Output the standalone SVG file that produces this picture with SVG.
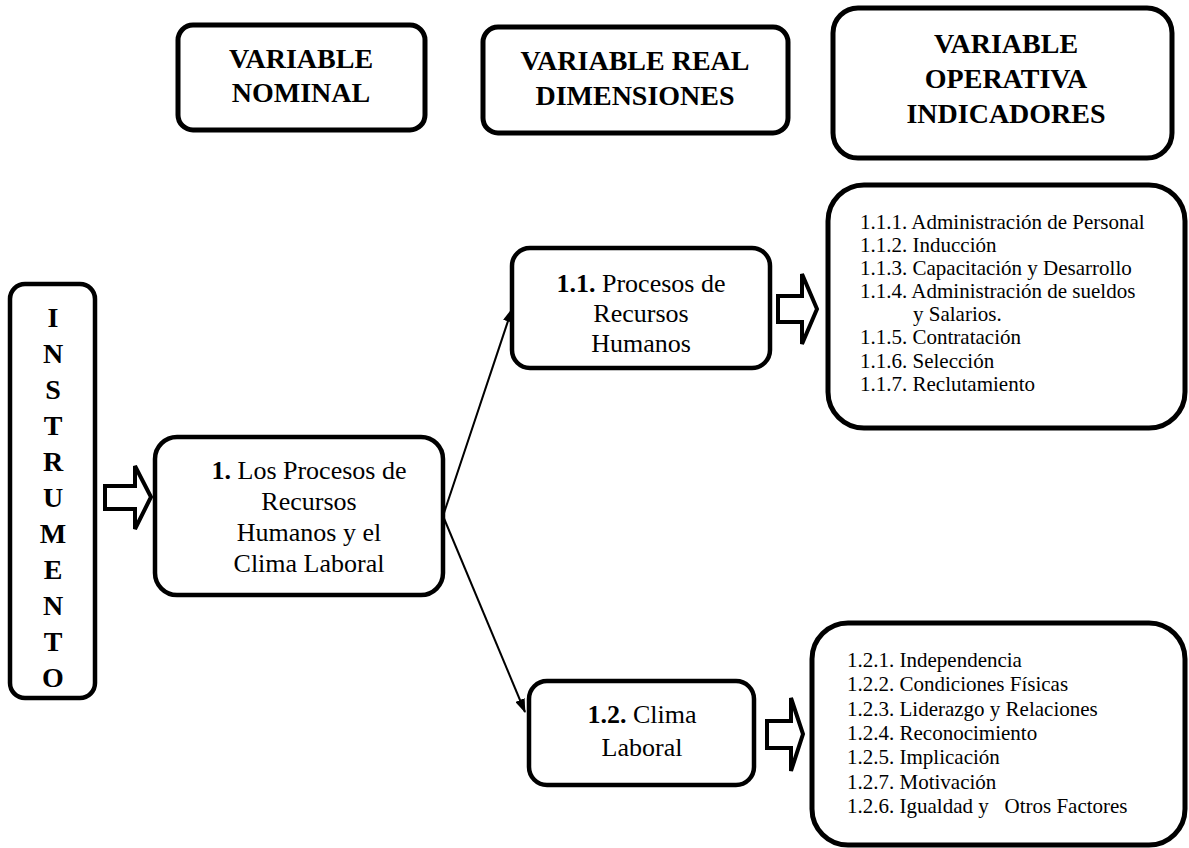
<svg xmlns="http://www.w3.org/2000/svg" width="1189" height="848" viewBox="0 0 1189 848">
<defs>
<style>
.box{fill:#fff;stroke:#000;stroke-width:5}
.nb{fill:#fff;stroke:#000;stroke-width:4.5}
.hd{font-family:"Liberation Serif","Times New Roman",serif;font-weight:bold;font-size:28px;text-anchor:middle;fill:#000}
.lt{font-family:"Liberation Serif","Times New Roman",serif;font-weight:bold;font-size:28px;text-anchor:middle;fill:#000}
.nd{font-family:"Liberation Serif","Times New Roman",serif;font-size:26px;text-anchor:middle;fill:#000}
.in{font-family:"Liberation Serif","Times New Roman",serif;font-size:21px;fill:#000}
.b{font-weight:bold}
.thin{fill:none;stroke:#000;stroke-width:2}
.block{fill:#fff;stroke:#000;stroke-width:4;stroke-linejoin:miter}
</style>
<marker id="ah" viewBox="0 0 14 10" refX="13" refY="5" markerWidth="14" markerHeight="10" markerUnits="userSpaceOnUse" orient="auto">
<path d="M0,0 L14,5 L0,10 Z" fill="#000"/>
</marker>
</defs>

<g id="hdr-nominal">
<rect class="box" x="178" y="25" width="247" height="105" rx="15"/>
<text class="hd" x="301" y="68">VARIABLE</text>
<text class="hd" x="301" y="102">NOMINAL</text>
</g>
<g id="hdr-real">
<rect class="box" x="483" y="27" width="305" height="106" rx="15"/>
<text class="hd" x="635" y="70">VARIABLE REAL</text>
<text class="hd" x="635" y="105">DIMENSIONES</text>
</g>
<g id="hdr-operativa">
<rect class="box" x="833" y="8" width="339" height="150" rx="25"/>
<text class="hd" x="1006" y="53">VARIABLE</text>
<text class="hd" x="1006" y="88">OPERATIVA</text>
<text class="hd" x="1006" y="123">INDICADORES</text>
</g>

<g id="instrumento">
<rect class="nb" x="10" y="284" width="85" height="414" rx="15"/>
<text class="lt" x="53" y="327">I</text>
<text class="lt" x="53" y="363">N</text>
<text class="lt" x="53" y="399">S</text>
<text class="lt" x="53" y="435">T</text>
<text class="lt" x="53" y="471">R</text>
<text class="lt" x="53" y="507">U</text>
<text class="lt" x="53" y="543">M</text>
<text class="lt" x="53" y="579">E</text>
<text class="lt" x="53" y="615">N</text>
<text class="lt" x="53" y="651">T</text>
<text class="lt" x="53" y="687">O</text>
</g>

<g id="node-1">
<rect class="nb" x="155" y="437" width="288" height="158" rx="22"/>
<text class="nd" x="309" y="479"><tspan class="b">1.</tspan> Los Procesos de</text>
<text class="nd" x="309" y="510">Recursos</text>
<text class="nd" x="309" y="541">Humanos y el</text>
<text class="nd" x="309" y="572">Clima Laboral</text>
</g>

<g id="node-1-1">
<rect class="nb" x="512" y="248" width="258" height="120" rx="18"/>
<text class="nd" x="641" y="292"><tspan class="b">1.1.</tspan> Procesos de</text>
<text class="nd" x="641" y="322">Recursos</text>
<text class="nd" x="641" y="352">Humanos</text>
</g>

<g id="node-1-2">
<rect class="nb" x="529" y="681" width="225" height="104" rx="18"/>
<text class="nd" x="642" y="723"><tspan class="b">1.2.</tspan> Clima</text>
<text class="nd" x="642" y="756">Laboral</text>
</g>

<g id="ind-1-1">
<rect class="box" x="828" y="185" width="357" height="243" rx="36"/>
<text class="in" x="860" y="229">1.1.1. Administración de Personal</text>
<text class="in" x="860" y="252">1.1.2. Inducción</text>
<text class="in" x="860" y="275">1.1.3. Capacitación y Desarrollo</text>
<text class="in" x="860" y="298">1.1.4. Administración de sueldos</text>
<text class="in" x="913" y="321">y Salarios.</text>
<text class="in" x="860" y="344">1.1.5. Contratación</text>
<text class="in" x="860" y="368">1.1.6. Selección</text>
<text class="in" x="860" y="391">1.1.7. Reclutamiento</text>
</g>

<g id="ind-1-2">
<rect class="box" x="812" y="623" width="373" height="222" rx="36"/>
<text class="in" x="847" y="667">1.2.1. Independencia</text>
<text class="in" x="847" y="691">1.2.2. Condiciones Físicas</text>
<text class="in" x="847" y="716">1.2.3. Liderazgo y Relaciones</text>
<text class="in" x="847" y="740">1.2.4. Reconocimiento</text>
<text class="in" x="847" y="764">1.2.5. Implicación</text>
<text class="in" x="847" y="789">1.2.7. Motivación</text>
<text class="in" x="847" y="813" xml:space="preserve">1.2.6. Igualdad y   Otros Factores</text>
</g>

<g id="connectors">
<path class="block" d="M105,486 L135,486 L135,466 L151,497 L135,529 L135,509 L105,509 Z"/>
<path class="block" d="M778,296 L802,296 L802,274 L817,309 L802,344 L802,322 L778,322 Z"/>
<path class="block" d="M767,721 L791,721 L791,698 L803,734 L791,771 L791,748 L767,748 Z"/>
<line class="thin" x1="443" y1="516" x2="512" y2="309" marker-end="url(#ah)"/>
<line class="thin" x1="443" y1="516" x2="525" y2="712" marker-end="url(#ah)"/>
</g>
</svg>
